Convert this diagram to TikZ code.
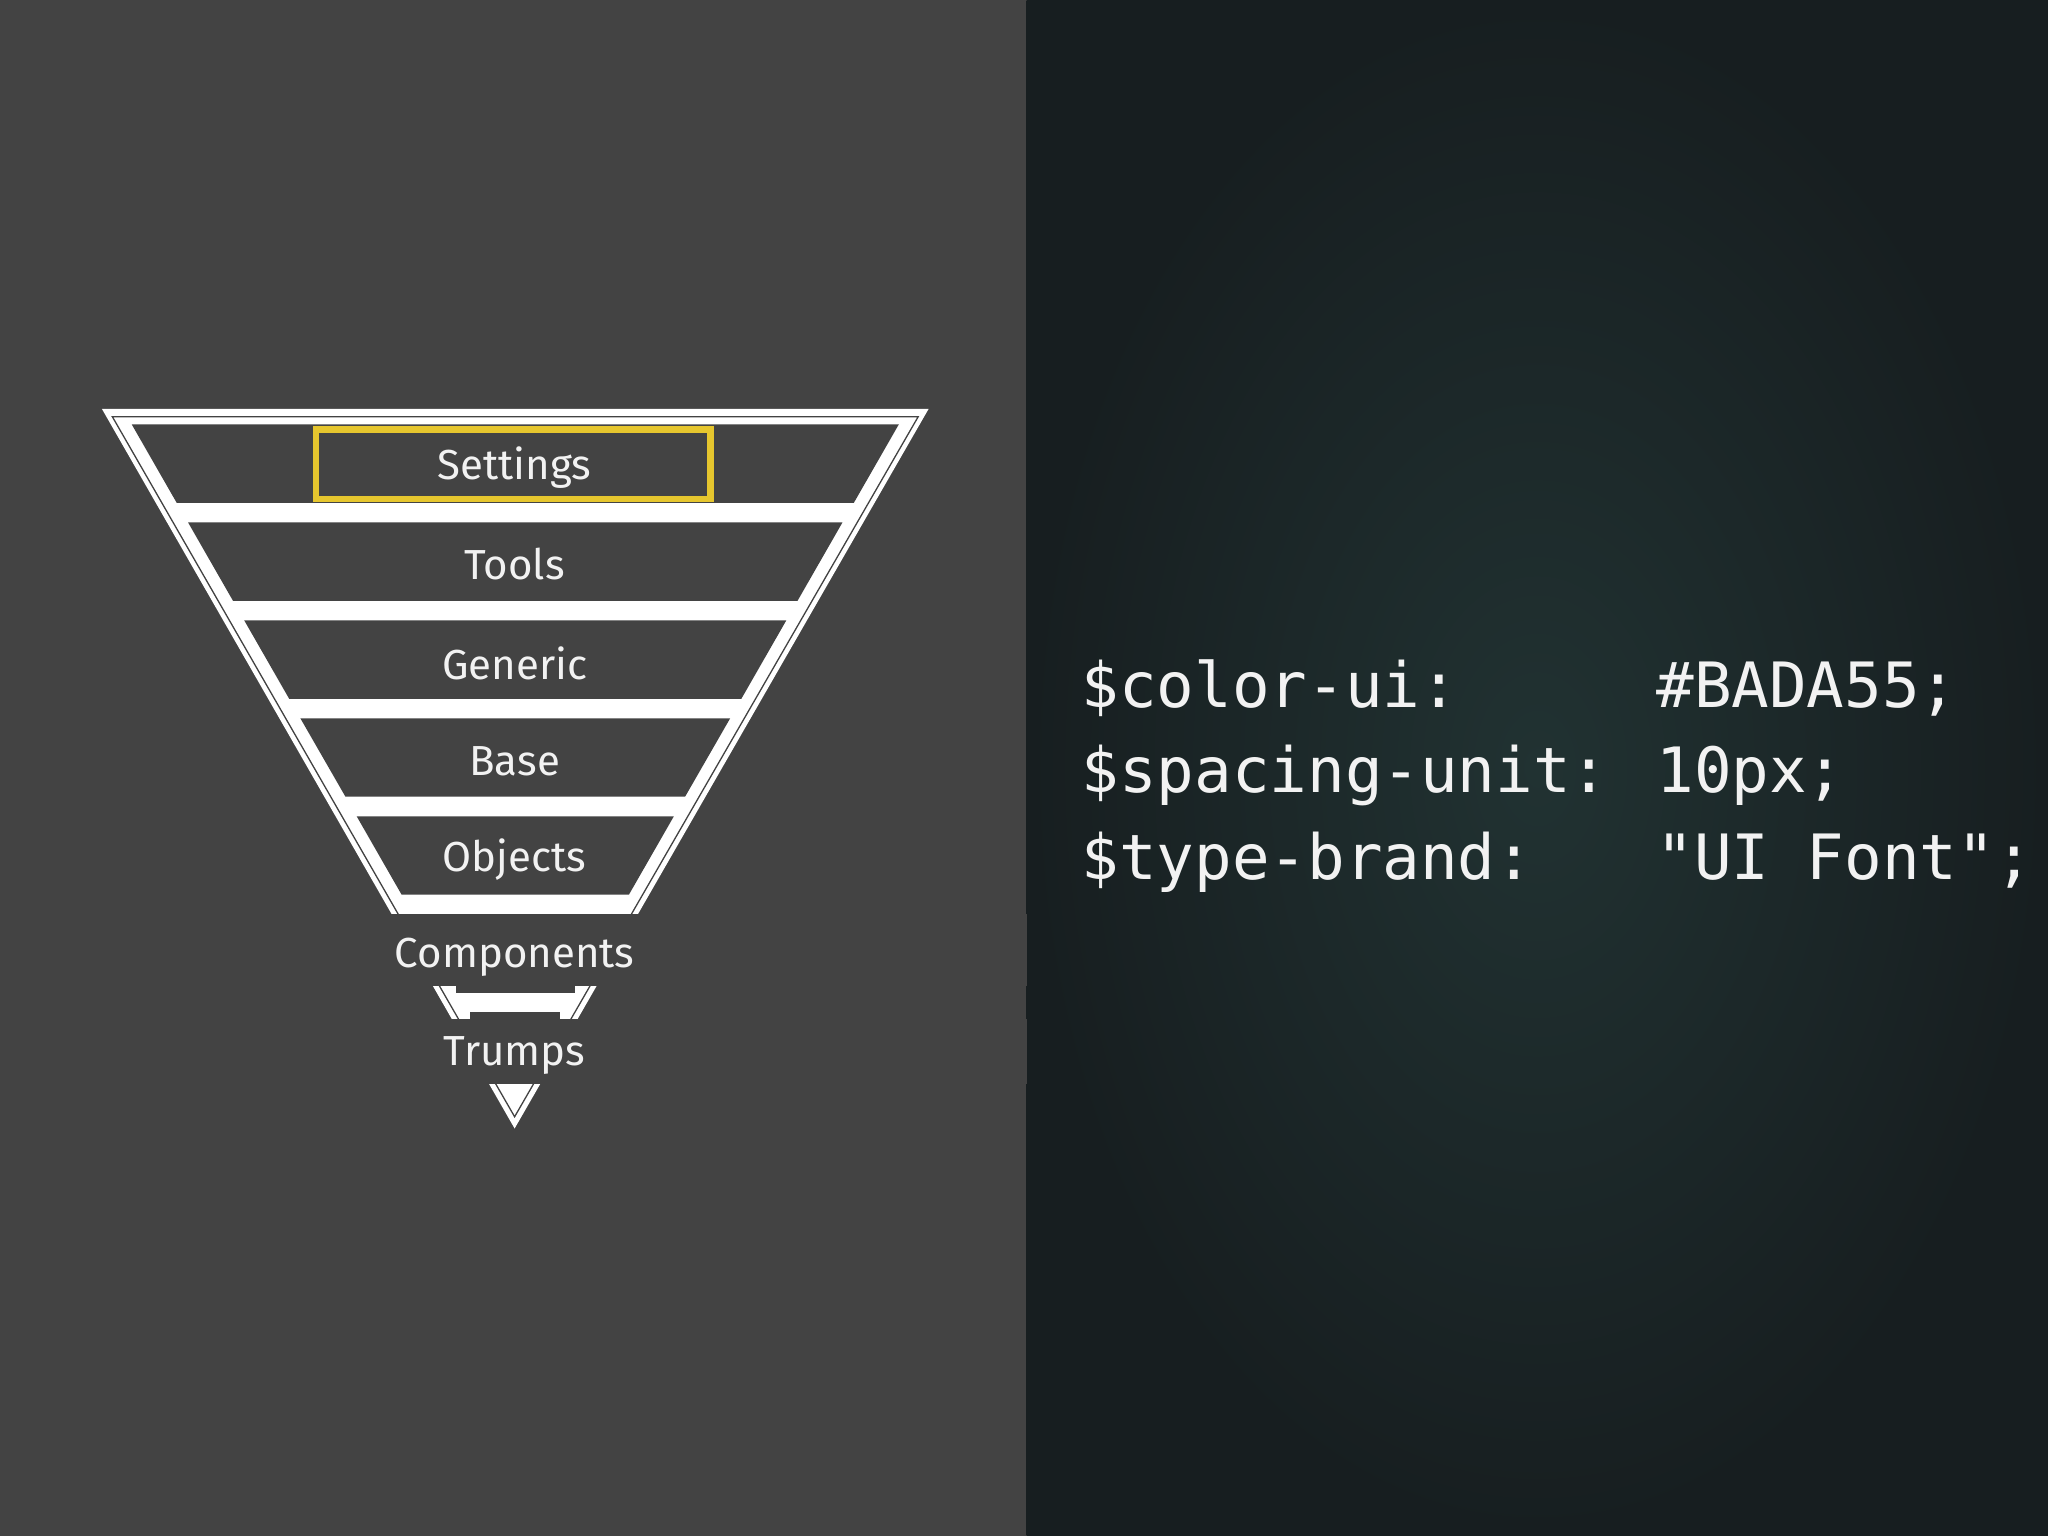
\documentclass[tikz,border=0pt]{standalone}
\usepackage{fontspec}
\setmainfont{Fira Sans}
\setmonofont{DejaVu Sans Mono}
\definecolor{leftbg}{HTML}{434343}
\definecolor{tinner}{HTML}{213232}
\definecolor{touter}{HTML}{171E20}
\definecolor{ylw}{HTML}{E6C62E}
\definecolor{txt}{HTML}{F2F2F2}
\begin{document}
\begin{tikzpicture}[x=1.306pt,y=-1.306pt,
  layer/.style={fill=leftbg,draw=none},
  lbl/.style={text=txt,font=\fontsize{42}{44}\selectfont,inner sep=0pt},
  code/.style={text=txt,font=\ttfamily\fontsize{62.5}{70}\selectfont,anchor=base west,inner sep=0pt}]
\useasboundingbox (0,0) rectangle (1568,1176);
\fill[leftbg] (0,0) rectangle (786,1176);
\shade[inner color=tinner,outer color=touter] (786,0) rectangle (1568,1176);
% funnel
\fill[white] (78,313) -- (711,313) -- (394,864) -- cycle;
\draw[leftbg,line width=1.3pt] (86,319) -- (703,319) -- (394,855) -- cycle;
\fill[layer] (100.9,325) -- (688.1,325) -- (653.7,385) -- (135.3,385) -- cycle;
\fill[layer] (144,400) -- (645,400) -- (610.6,460) -- (178.4,460) -- cycle;
\fill[layer] (187,475) -- (602,475) -- (567.6,535) -- (221.4,535) -- cycle;
\fill[layer] (230,550) -- (559,550) -- (524.5,610) -- (264.5,610) -- cycle;
\fill[layer] (273.1,625) -- (515.9,625) -- (481.5,685) -- (307.5,685) -- cycle;
\fill[leftbg] (0,700) rectangle (786,755);
\fill[leftbg] (349,755) rectangle (440,760);
\fill[leftbg] (360,775) rectangle (429,780);
\fill[leftbg] (0,780) rectangle (786,830);
\draw[ylw,line width=6.5pt] (242,329) rectangle (544,382);
\node[lbl] (settings) at (394,358) {Settings};
\node[lbl] (tools) at (394,432) {Tools};
\node[lbl] (generic) at (394,508) {Generic};
\node[lbl] (base) at (394,583) {Base};
\node[lbl] (objects) at (394,658) {Objects};
\node[lbl] (components) at (394,733) {Components};
\node[lbl] (trumps) at (394,808) {Trumps};
% code
\node[code] (k1) at (828,542) {\$color-ui:};
\node[code] (v1) at (1268,542) {\#BADA55;};
\node[code] (k2) at (828,607) {\$spacing-unit:};
\node[code] (v2) at (1268,607) {10px;};
\node[code] (k3) at (828,673) {\$type-brand:};
\node[code] (v3) at (1268,673) {"UI Font";};
\end{tikzpicture}
\end{document}
